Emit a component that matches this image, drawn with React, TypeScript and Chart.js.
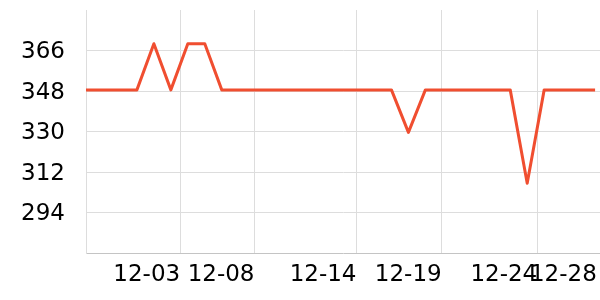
import React, { useEffect, useRef } from "react";
import { Chart, registerables } from "chart.js";

Chart.register(...registerables);

// Daily series (index 0..30)
const pointIndex: number[] = Array.from({ length: 31 }, (_, i) => i);
const seriesValues: number[] = [
  348.5, 348.5, 348.5, 348.5, 369, 348.5, 369, 369, 348.5, 348.5,
  348.5, 348.5, 348.5, 348.5, 348.5, 348.5, 348.5, 348.5, 348.5, 329.6,
  348.5, 348.5, 348.5, 348.5, 348.5, 348.5, 307, 348.5, 348.5, 348.5,
  348.5,
];

// X-axis tick labels and their positions (in point-index units)
const xTickLabels: string[] = ["12-03", "12-08", "12-14", "12-19", "12-24", "12-28"];
const xTickPositions: number[] = [5.55, 9.93, 15.94, 20.96, 26.59, 30.1];

// Y-axis ticks and range
const yTickValues: number[] = [294, 312, 330, 348, 366];
const yMin = 276;
const yMax = 384;
const xMax = 30.29;

export default function App() {
  const canvasRef = useRef<HTMLCanvasElement | null>(null);

  useEffect(() => {
    const canvas = canvasRef.current;
    if (!canvas) return;
    const font = { family: "'DejaVu Sans', sans-serif", size: 23 };
    const chart = new Chart(canvas, {
      type: "line",
      data: {
        datasets: [
          {
            data: pointIndex.map((x, i) => ({ x, y: seriesValues[i] })),
            borderColor: "#f04e30",
            borderWidth: 3,
            pointRadius: 0,
            tension: 0,
            borderJoinStyle: "round",
            fill: false,
          },
        ],
      },
      options: {
        animation: false,
        responsive: false,
        layout: { padding: { top: 10, left: 0, right: 0, bottom: 0 } },
        plugins: { legend: { display: false }, tooltip: { enabled: false } },
        scales: {
          x: {
            type: "linear",
            min: 0,
            max: xMax,
            afterBuildTicks: (scale: any) => {
              scale.ticks = xTickPositions.map((v) => ({ value: v }));
            },
            afterFit: (scale: any) => {
              scale.height = 47;
              scale.paddingLeft = 0;
              scale.paddingRight = 0;
              scale.paddingTop = 0;
              scale.paddingBottom = 0;
            },
            grid: {
              drawTicks: false,
              color: (ctx: any) => (ctx.index === xTickPositions.length - 1 ? "rgba(0,0,0,0)" : "#dddddd"),
            },
            border: { display: true, color: "#c4c4c4" },
            ticks: {
              autoSkip: false,
              maxRotation: 0,
              minRotation: 0,
              align: "end",
              padding: 8,
              color: "#000",
              font,
              callback: (_v: any, i: number) => xTickLabels[i],
            },
          },
          y: {
            type: "linear",
            min: yMin,
            max: yMax,
            afterBuildTicks: (scale: any) => {
              scale.ticks = yTickValues.map((v) => ({ value: v }));
            },
            afterFit: (scale: any) => {
              scale.width = 86;
              scale.paddingLeft = 0;
              scale.paddingRight = 0;
              scale.paddingTop = 0;
              scale.paddingBottom = 0;
            },
            grid: { drawTicks: false, color: "#dddddd" },
            border: { display: true, color: "#dddddd" },
            ticks: {
              padding: 21,
              labelOffset: 2,
              color: "#000",
              font,
              callback: (v: any) => String(v),
            },
          },
        },
      },
    });
    return () => chart.destroy();
  }, []);

  return (
    <div style={{ position: "fixed", left: 0, top: 0, width: 600, height: 300, background: "#fff" }}>
      <canvas ref={canvasRef} width={600} height={300} style={{ display: "block" }} />
    </div>
  );
}
